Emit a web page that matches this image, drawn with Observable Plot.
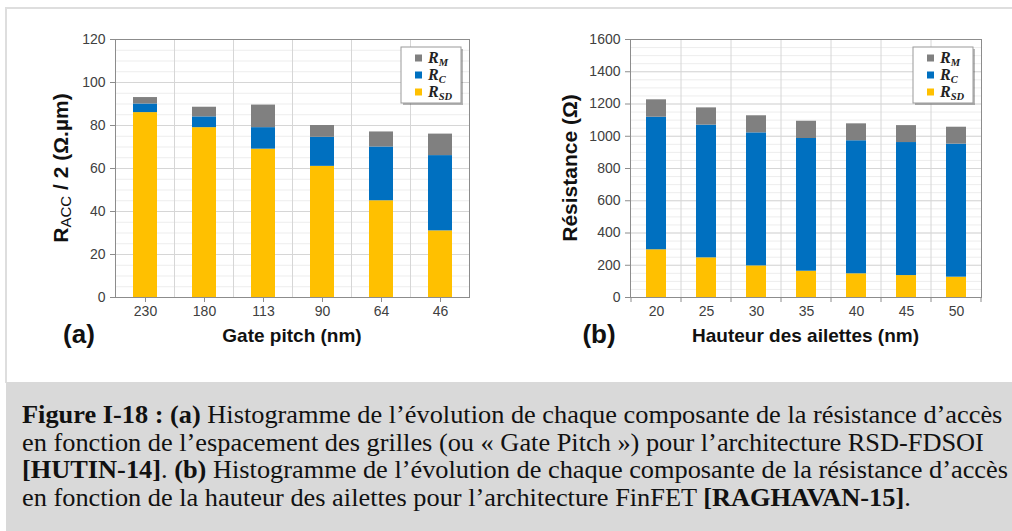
<!DOCTYPE html>
<html><head><meta charset="utf-8">
<script src="https://cdn.jsdelivr.net/npm/d3@7"></script>
<script src="https://cdn.jsdelivr.net/npm/@observablehq/plot@0.6"></script>
<style>
html,body{margin:0;padding:0;background:#fff;}
#page{position:relative;width:1012px;height:531px;overflow:hidden;background:#fff;}
.bt{position:absolute;left:5px;top:7px;right:0;height:2px;background:#dedede;}
.bl{position:absolute;left:5px;top:7px;width:2px;height:376px;background:#dedede;}
#chartA,#chartB{position:absolute;top:0;}
#chartA{left:0;} #chartB{left:506px;}
#caption{position:absolute;left:6px;top:382px;width:1006px;height:149px;background:#d9d9d9;overflow:hidden;}
#capInner{position:absolute;left:16px;top:19px;font-size:25px;color:#111;white-space:nowrap;transform-origin:0 0;}
.ln{line-height:27.7px;height:27.7px;}
</style></head><body>
<div id="page">
  <div class="bt"></div><div class="bl"></div>
  <div id="chartA"></div>
  <div id="chartB"></div>
  <div id="caption"><div id="capInner">
    <div class="ln" id="firstLine"><b>Figure I-18 :</b> <b>(a)</b> Histogramme de l’évolution de chaque composante de la résistance d’accès</div>
    <div class="ln">en fonction de l’espacement des grilles (ou « Gate Pitch ») pour l’architecture RSD-FDSOI</div>
    <div class="ln"><b>[HUTIN-14]</b>. <b>(b)</b> Histogramme de l’évolution de chaque composante de la résistance d’accès</div>
    <div class="ln"><span>en fonction de la hauteur des ailettes pour l’architecture FinFET <b>[RAGHAVAN-15]</b>.</span></div>
  </div></div>
</div>
<script>
// ---- Data (a): Gate pitch ----
const gatePitch = ["230", "180", "113", "90", "64", "46"];
const rsdA = [86, 79, 69, 61, 45, 31];
const rcA  = [4, 5, 10, 13.5, 25, 35];
const rmA  = [3, 4.5, 10.5, 5.5, 7, 10];
const yTicksA = [0, 20, 40, 60, 80, 100, 120];

// ---- Data (b): fin height ----
const finHeight = ["20", "25", "30", "35", "40", "45", "50"];
const rsdB = [296, 246, 196, 163, 147, 136, 126];
const rcB  = [822, 823, 825, 823, 825, 825, 825];
const rmB  = [108, 107, 106, 107, 105, 105, 105];
const yTicksB = [0, 200, 400, 600, 800, 1000, 1200, 1400, 1600];

const seriesNames = ["RSD", "RC", "RM"];
const seriesColors = ["#FFC000", "#0070C0", "#808080"];
const legendItems = [["M", "#808080"], ["C", "#0070C0"], ["SD", "#FFC000"]];

// font detection
function pickFont(cands, generic) {
  const c = document.createElement("canvas").getContext("2d");
  const sample = "mmmmmmmmmmlliWWwQ@#éΩ 0123456789 Histogramme";
  for (const f of cands) {
    for (const base of ["monospace", "serif", "sans-serif"]) {
      c.font = `40px ${base}`; const w0 = c.measureText(sample).width;
      c.font = `40px "${f}", ${base}`; const w1 = c.measureText(sample).width;
      if (Math.abs(w1 - w0) > 0.5) return `"${f}", ${generic}`;
    }
  }
  return generic;
}
const SANS = pickFont(["Liberation Sans", "Arial", "Arimo", "Helvetica", "Nimbus Sans", "Roboto", "DejaVu Sans"], "sans-serif");
const SERIF = pickFont(["Liberation Serif", "Times New Roman", "Tinos", "Times", "Nimbus Roman", "FreeSerif", "DejaVu Serif"], "serif");
document.getElementById("page").style.fontFamily = SANS;
document.getElementById("capInner").style.fontFamily = SERIF;

function makeChart(cfg) {
  const data = cfg.cats.flatMap((c, i) => [
    {cat: c, series: "RSD", value: cfg.rsd[i]},
    {cat: c, series: "RC", value: cfg.rc[i]},
    {cat: c, series: "RM", value: cfg.rm[i]}
  ]);
  const yMax = cfg.yTicks[cfg.yTicks.length - 1];
  const minor = d3.range(0, yMax, cfg.minorStep);
  const W = 506, H = 360, mt = 39, mb = 63;
  const plot = Plot.plot({
    width: W, height: H,
    marginTop: mt, marginBottom: mb, marginLeft: cfg.ml, marginRight: cfg.mr,
    style: {fontFamily: SANS, fontSize: "14px", color: "#404040", background: "transparent", overflow: "visible"},
    x: {domain: cfg.cats, paddingInner: 0.6, paddingOuter: 0.3, label: null},
    y: {domain: [0, yMax], label: null},
    color: {domain: seriesNames, range: seriesColors},
    marks: [
      Plot.ruleY(minor, {stroke: "#ededed"}),
      Plot.ruleY(cfg.yTicks, {stroke: "#d6d6d6"}),
      Plot.barY(data, {x: "cat", y: "value", fill: "series"}),
      Plot.frame({stroke: "#8c8c8c"}),
      Plot.axisY({ticks: cfg.yTicks, tickSize: 5, tickPadding: 5, fontSize: 14, label: null, tickFormat: d => String(d)}),
      Plot.axisX({tickSize: cfg.centerTicks ? 5 : 0, tickPadding: cfg.centerTicks ? 4 : 9, fontSize: 14, label: null})
    ]
  });
  const svg = d3.select(plot);
  svg.selectAll('g[aria-label="y-axis tick"], g[aria-label="x-axis tick"]').attr("stroke", "#8c8c8c");
  const xs = plot.scale("x");
  const gap = (xs.step - xs.bandwidth) / 2;
  const x0 = cfg.ml, x1 = W - cfg.mr, y0 = mt, y1 = H - mb;
  // vertical gridlines between categories
  const g = svg.insert("g", 'g[aria-label="bar"]');
  cfg.cats.slice(1).forEach(c => {
    const bx = xs.apply(c) - gap;
    g.append("line").attr("x1", bx).attr("x2", bx).attr("y1", y0).attr("y2", y1).attr("stroke", "#d6d6d6");
  });
  if (!cfg.centerTicks) {
    const tg = svg.append("g").attr("stroke", "#8c8c8c");
    const bounds = cfg.cats.map(c => xs.apply(c) - gap).concat([xs.apply(cfg.cats[cfg.cats.length - 1]) + xs.bandwidth + gap]);
    bounds.forEach(bx => tg.append("line").attr("x1", bx).attr("x2", bx).attr("y1", y1).attr("y2", y1 + 5));
  }
  // y label
  const yl = svg.append("text")
    .attr("transform", `translate(${cfg.ylx},${(y0 + y1) / 2}) rotate(-90)`)
    .attr("text-anchor", "middle").attr("dominant-baseline", "middle")
    .attr("font-size", 21).attr("font-weight", "bold").attr("fill", "#111");
  cfg.yLabel(yl);
  // x label
  svg.append("text").attr("x", (x0 + x1) / 2).attr("y", 337).attr("text-anchor", "middle")
    .attr("dominant-baseline", "middle").attr("font-size", 19).attr("font-weight", "bold").attr("fill", "#111")
    .text(cfg.xLabel);
  // panel label
  svg.append("text").attr("x", cfg.panelX).attr("y", 336).attr("text-anchor", "middle")
    .attr("dominant-baseline", "middle").attr("font-size", 26).attr("font-weight", "bold").attr("fill", "#111")
    .text(cfg.panel);
  // legend
  const lw = 60, lh = 56, lx = x1 - 8 - lw, ly = y0 + 8;
  const lg = svg.append("g").attr("text-anchor", "start");
  lg.append("rect").attr("x", lx + 2).attr("y", ly + 2).attr("width", lw).attr("height", lh).attr("fill", "rgba(0,0,0,0.28)");
  lg.append("rect").attr("x", lx).attr("y", ly).attr("width", lw).attr("height", lh).attr("fill", "#fff").attr("stroke", "#9a9a9a");
  legendItems.forEach(([sub, col], i) => {
    const cy = ly + 11 + i * 17;
    lg.append("rect").attr("x", lx + 14).attr("y", cy - 3.5).attr("width", 7).attr("height", 7).attr("fill", col);
    const t = lg.append("text").attr("x", lx + 27).attr("y", cy + 5).attr("text-anchor", "start")
      .attr("font-family", SERIF)
      .attr("font-style", "italic").attr("font-weight", "bold").attr("font-size", 16).attr("fill", "#222");
    t.append("tspan").text("R");
    t.append("tspan").attr("dy", 3).attr("font-size", 10.5).text(sub);
  });
  return plot;
}

document.getElementById("chartA").appendChild(makeChart({
  cats: gatePitch, rsd: rsdA, rc: rcA, rm: rmA, yTicks: yTicksA, minorStep: 5,
  ml: 115, mr: 37, centerTicks: true, ylx: 62, panelX: 79, panel: "(a)",
  xLabel: "Gate pitch (nm)",
  yLabel: t => {
    t.append("tspan").text("R");
    t.append("tspan").attr("dy", 5).attr("font-size", 15).attr("font-weight", "normal").text("ACC");
    t.append("tspan").attr("dy", -5).text(" / 2 (Ω.µm)");
  }
}));
document.getElementById("chartB").appendChild(makeChart({
  cats: finHeight, rsd: rsdB, rc: rcB, rm: rmB, yTicks: yTicksB, minorStep: 50,
  ml: 124, mr: 31, centerTicks: false, ylx: 65, panelX: 93, panel: "(b)",
  xLabel: "Hauteur des ailettes (nm)",
  yLabel: t => { t.text("Résistance (Ω)"); }
}));

// caption horizontal fit: first line spans to the right edge
const inner = document.getElementById("capInner");
let maxW = 0;
inner.querySelectorAll(".ln").forEach(ln => {
  const r = document.createRange(); r.selectNodeContents(ln);
  maxW = Math.max(maxW, r.getBoundingClientRect().width);
});
const s = (1008 - 22) / maxW;
inner.style.transform = `scaleX(${s})`;
</script>
</body></html>
